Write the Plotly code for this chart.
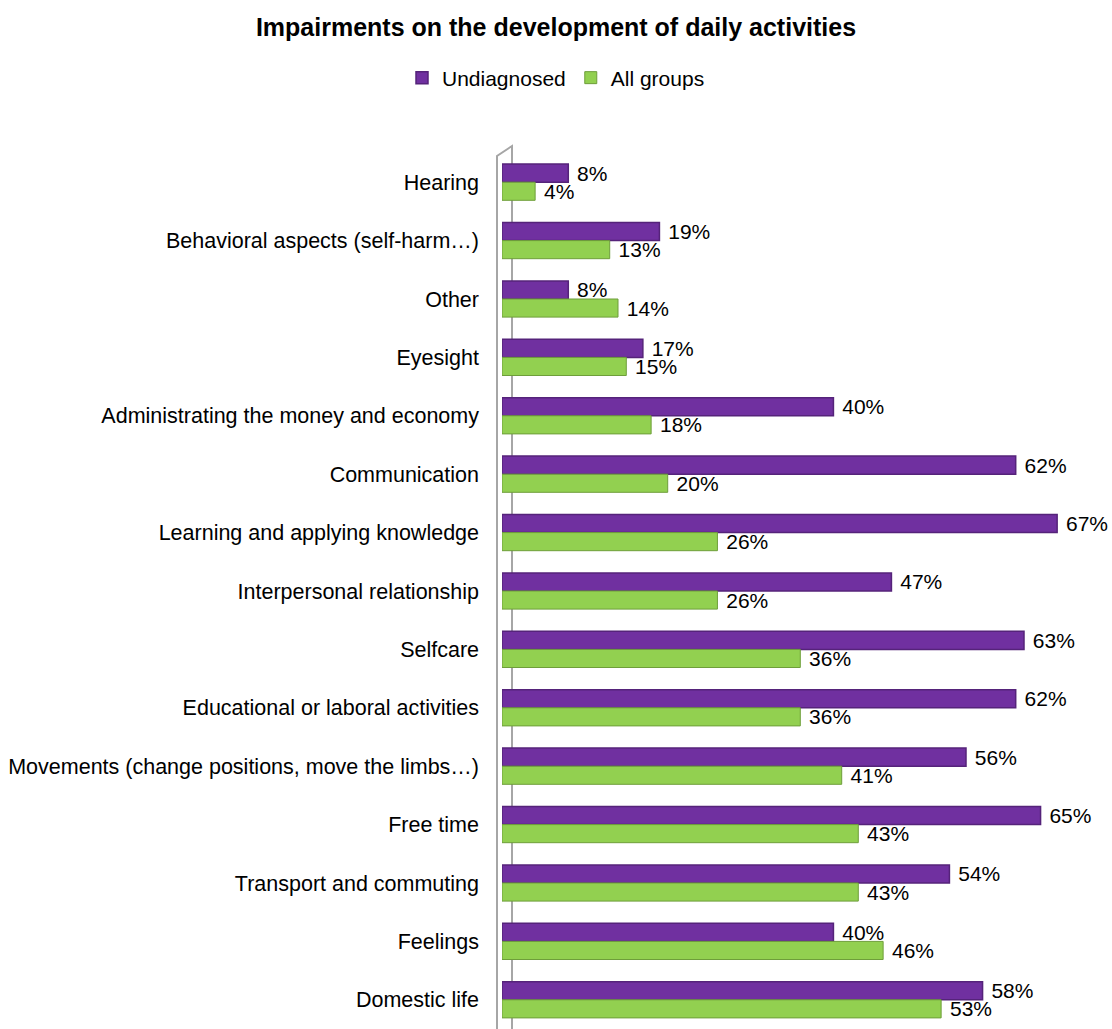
import plotly.graph_objects as go

categories = ["Hearing", "Behavioral aspects (self-harm…)", "Other", "Eyesight",
              "Administrating the money and economy", "Communication",
              "Learning and applying knowledge", "Interpersonal relationship",
              "Selfcare", "Educational or laboral activities",
              "Movements (change positions, move the limbs…)", "Free time",
              "Transport and commuting", "Feelings", "Domestic life"]
undiagnosed = [8, 19, 8, 17, 40, 62, 67, 47, 63, 62, 56, 65, 54, 40, 58]
all_groups = [4, 13, 14, 15, 18, 20, 26, 26, 36, 36, 41, 43, 43, 46, 53]

W, H = 1112, 1029
L, R, T, B = 502, 30, 153, 0
PW, PH = W - L - R, H - T - B

def px(x):
    return (x - L) / PW

def py(y):
    return (H - B - y) / PH

fig = go.Figure()
fig.add_trace(go.Bar(
    y=categories, x=undiagnosed, orientation="h", name="Undiagnosed",
    marker=dict(color="#7030A0", line=dict(color="#55237A", width=1.5)),
    text=[f" {v}%" for v in undiagnosed], textposition="outside",
    constraintext="none",
    textfont=dict(size=21, color="#000000"), cliponaxis=False,
))
fig.add_trace(go.Bar(
    y=categories, x=all_groups, orientation="h", name="All groups",
    marker=dict(color="#92D050", line=dict(color="#6E9E3A", width=1)),
    text=[f" {v}%" for v in all_groups], textposition="outside",
    constraintext="none",
    textfont=dict(size=21, color="#000000"), cliponaxis=False,
))

# 3D-style wall at the left of the plot area
wall = "#A6A6A6"
path = (f"M {px(497)} {py(1040)} L {px(497)} {py(156)} L {px(512)} {py(146)} "
        f"L {px(512)} {py(1040)}")
fig.add_shape(type="path", xref="paper", yref="paper", path=path,
              line=dict(color=wall, width=2), layer="below")

fig.update_layout(
    width=W, height=H,
    margin=dict(l=L, r=R, t=T, b=B, autoexpand=False),
    paper_bgcolor="white", plot_bgcolor="white",
    font=dict(family="Liberation Sans, Arial, sans-serif", size=21, color="#000000"),
    title=dict(text="<b>Impairments on the development of daily activities</b>",
               x=0.5, xref="container", xanchor="center", y=1 - 27 / H, yanchor="middle",
               font=dict(size=25, color="#000000")),
    barmode="group", bargap=0.38, bargroupgap=0.0,
    showlegend=True,
    legend=dict(orientation="h", x=0.5, xref="container", xanchor="center",
                y=1 - 78 / H, yref="container", yanchor="middle",
                font=dict(size=21), itemwidth=30, traceorder="normal"),
    xaxis=dict(range=[0, 70], visible=False, showgrid=False, zeroline=False),
    yaxis=dict(autorange="reversed", showgrid=False, zeroline=False, showline=False,
               ticks="", ticklabelstandoff=22, tickfont=dict(size=21.5), automargin=False),
)
fig.write_html("out.html", config={"displayModeBar": False},
               post_script="document.body.style.margin='0';")
